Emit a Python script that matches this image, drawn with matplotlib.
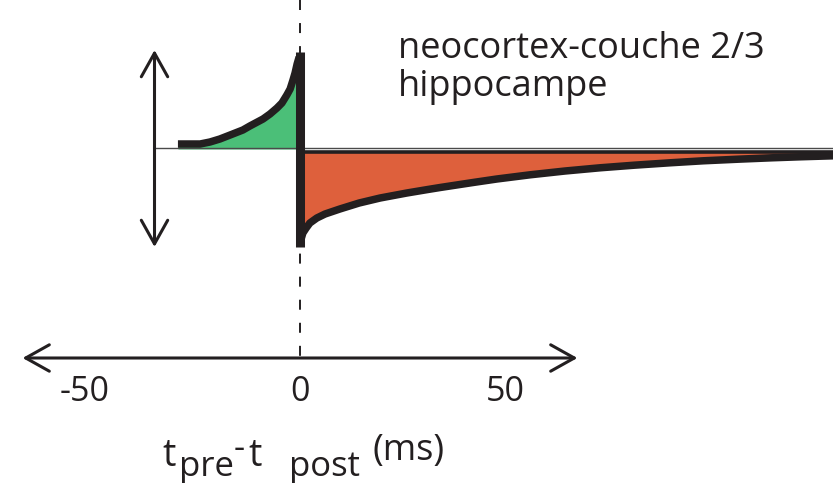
import matplotlib
matplotlib.use("Agg")
import matplotlib.pyplot as plt
from matplotlib.patches import FancyArrowPatch, ArrowStyle
from matplotlib.transforms import offset_copy

plt.rcParams['font.family'] = ['Open Sans', 'DejaVu Sans']
plt.rcParams['lines.scale_dashes'] = False

# ---- data (ms, arbitrary weight units) ----
ltp_t = [-29.7, -24.3, -21.9, -19.5, -17.0, -13.9, -12.2, -9.0, -7.3, -5.6,
         -4.4, -3.2, -2.4, -1.7, -1.2, -0.7, -0.2, 0.0]
ltp_w = [5, 5, 7, 10, 14, 19, 23, 30, 35, 41,
         46, 54, 60, 69, 76, 85, 92, 97]
ltd_t = [0.0, 0.2, 0.7, 1.5, 2.4, 4.1, 6.1, 9.7, 14.4, 19.5, 26.0, 31.1,
         34.1, 42.1, 47.9, 56.0, 64.5, 73.0, 81.3, 90.0, 98.1, 107.1,
         114.8, 121.7, 129.7]
ltd_w = [-98, -91, -84, -79, -74, -69, -65, -60, -54, -49, -44, -40.5,
         -38.5, -33.5, -30, -25.8, -22, -18.8, -16.2, -13.8, -11.8, -10.1,
         -8.8, -7.8, -6.8]
tick_vals = [-50, 0, 50]
tick_labels = ['-50', '0', '50']
legend_lines = ['neocortex-couche 2/3', 'hippocampe']

BLACK = '#231f20'
GREEN = '#4bbf78'
ORANGE = '#de603c'

W, H = 833, 483
fig = plt.figure(figsize=(W / 100, H / 100), dpi=100)
ax = fig.add_axes([0, 0, 1, 1])
ax.axis('off')
PXMS = 4.11
X0 = 300
ax.set_xlim(-X0 / PXMS, (W - X0) / PXMS)
ax.set_ylim(149 - H, 149)
xmax = ax.get_xlim()[1]

def fpx(x, y):
    return x / W, 1 - y / H

# fills
ax.fill_between(ltp_t, 0, ltp_w, color=GREEN, lw=0, zorder=1)
ax.fill_between(ltd_t, -2, ltd_w, color=ORANGE, lw=0, zorder=1)

# baseline (thin) and top edge of depression area
ax.plot([-35.4, xmax], [1, 1], color='#4a4a4a', lw=1.0, zorder=2)
ax.plot([0, xmax], [-2.5, -2.5], color=BLACK, lw=2.6, zorder=3,
        solid_capstyle='butt')

# dashed zero line
ax.plot([0, 0], [149, -209], color=BLACK, lw=1.4, zorder=2,
        linestyle=(0, (7.2, 9.4)))

# STDP curve: potentiation branch, jump at 0, depression branch
ax.plot(ltp_t[:-1], ltp_w[:-1], color=BLACK, lw=5.4, zorder=4,
        solid_capstyle='butt', solid_joinstyle='round')
ax.plot(ltd_t[1:], ltd_w[1:], color=BLACK, lw=5.4, zorder=4,
        solid_capstyle='butt', solid_joinstyle='round')
ax.plot([ltp_t[-1], ltd_t[0]], [ltp_w[-1], ltd_w[0]], color=BLACK, lw=6.5,
        zorder=5, solid_capstyle='butt')

# arrows
style = ArrowStyle('<->', head_length=17, head_width=9.5)
ax.add_patch(FancyArrowPatch((-35.4, 99), (-35.4, -98), arrowstyle=style,
                             color=BLACK, lw=2.2, mutation_scale=1,
                             shrinkA=0, shrinkB=0, zorder=5))
ax.add_patch(FancyArrowPatch((-67.5, -209), (67.5, -209), arrowstyle=style,
                             color=BLACK, lw=2.2, mutation_scale=1,
                             shrinkA=0, shrinkB=0, zorder=5))

# tick labels (negative labels centred on their digits)
for v, lab in zip(tick_vals, tick_labels):
    tr = ax.transData
    if lab.startswith('-'):
        tr = offset_copy(ax.transData, fig=fig, x=-7, y=0, units='points')
    ax.text(v, -243, lab, ha='center', va='center', fontsize=24.5,
            color=BLACK, transform=tr)

# legend text
fig.text(*fpx(398, 58), legend_lines[0], ha='left', va='baseline',
         fontsize=26, color=BLACK)
fig.text(*fpx(398, 96), legend_lines[1], ha='left', va='baseline',
         fontsize=26, color=BLACK)

# axis label
fs = 25
fig.text(*fpx(162, 466), 't', ha='left', va='baseline', fontsize=27, color=BLACK)
fig.text(*fpx(179, 476), 'pre', ha='left', va='baseline', fontsize=fs, color=BLACK)
fig.text(*fpx(234, 458), '-', ha='left', va='baseline', fontsize=fs, color=BLACK)
fig.text(*fpx(248, 466), 't', ha='left', va='baseline', fontsize=27, color=BLACK)
fig.text(*fpx(289, 476), 'post', ha='left', va='baseline', fontsize=fs, color=BLACK)
fig.text(*fpx(372, 460), '(ms)', ha='left', va='baseline', fontsize=26, color=BLACK)

fig.savefig('out.png', dpi=100)
